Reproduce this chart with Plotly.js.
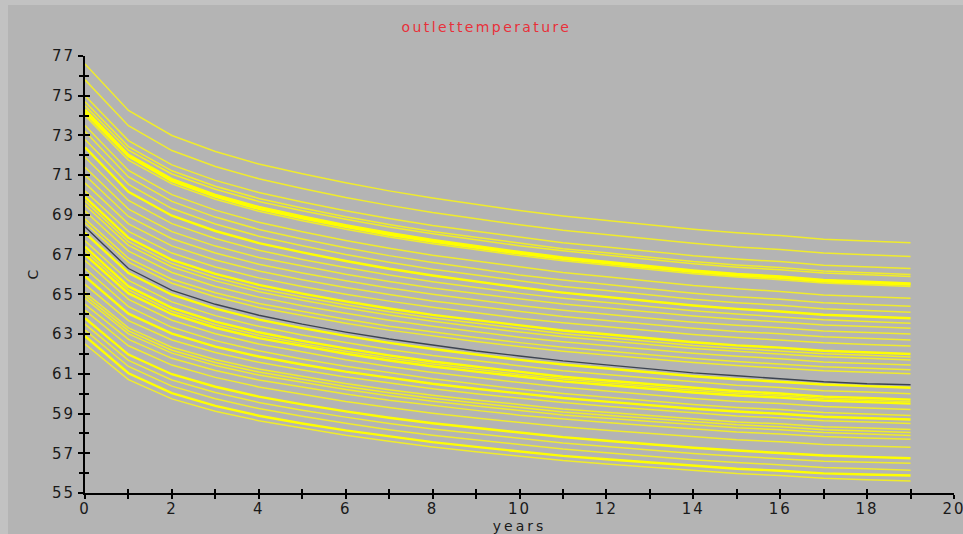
<!DOCTYPE html>
<html>
<head>
<meta charset="utf-8">
<script src="https://cdn.plot.ly/plotly-3.0.1.min.js"></script>
<style>
  html, body { margin: 0; padding: 0; background: #c2c2c2; width: 963px; height: 534px; overflow: hidden; }
  #chart { position: absolute; left: 8px; top: 5px; width: 955px; height: 529px; }
  #chart .xtick text, #chart .ytick text { letter-spacing: 2px; }
  #chart .gtitle { letter-spacing: 2.4px; }
  #chart .xtitle { letter-spacing: 3px; }
</style>
</head>
<body>
<div id="chart"></div>
<script>
// ---- data ----
const years = [0,1,2,3,4,5,6,7,8,9,10,11,12,13,14,15,16,17,18,19];
const xTickVals = [0,2,4,6,8,10,12,14,16,18,20];
const yTickVals = [55,57,59,61,63,65,67,69,71,73,75,77];

const run01 = [76.6,74.26,73.0,72.19,71.56,71.07,70.62,70.21,69.85,69.54,69.22,68.95,68.73,68.5,68.28,68.1,67.96,67.78,67.69,67.6];
const run02 = [75.8,73.49,72.24,71.44,70.82,70.33,69.88,69.48,69.12,68.81,68.5,68.23,68.01,67.79,67.57,67.39,67.26,67.08,66.99,66.9];
const run03 = [75.0,72.74,71.52,70.74,70.13,69.65,69.21,68.82,68.47,68.17,67.87,67.6,67.39,67.17,66.95,66.78,66.65,66.47,66.39,66.3];
const run04 = [74.7,72.44,71.22,70.44,69.83,69.35,68.91,68.52,68.17,67.87,67.57,67.3,67.09,66.87,66.65,66.48,66.35,66.17,66.09,66.0];
const run05 = [74.5,72.26,71.06,70.29,69.68,69.21,68.78,68.39,68.05,67.75,67.45,67.19,66.97,66.76,66.54,66.37,66.24,66.07,65.99,65.9];
const run06 = [74.3,72.03,70.8,70.01,69.4,68.92,68.48,68.09,67.74,67.43,67.13,66.86,66.64,66.43,66.21,66.03,65.9,65.73,65.64,65.55];
const run07 = [74.0,71.76,70.56,69.79,69.18,68.71,68.28,67.89,67.55,67.25,66.95,66.69,66.47,66.26,66.04,65.87,65.74,65.57,65.49,65.4];
const run08 = [73.5,71.24,70.02,69.24,68.63,68.15,67.71,67.32,66.97,66.67,66.37,66.1,65.89,65.67,65.45,65.28,65.15,64.97,64.89,64.8];
const run09 = [73.2,70.91,69.68,68.89,68.27,67.79,67.35,66.95,66.6,66.29,65.98,65.72,65.5,65.28,65.06,64.88,64.75,64.58,64.49,64.4];
const run10 = [72.8,70.54,69.32,68.54,67.93,67.45,67.01,66.62,66.27,65.97,65.67,65.4,65.19,64.97,64.75,64.58,64.45,64.27,64.19,64.1];
const run11 = [72.4,70.16,68.96,68.19,67.58,67.11,66.68,66.29,65.95,65.65,65.35,65.09,64.87,64.66,64.44,64.27,64.14,63.97,63.89,63.8];
const run12 = [71.9,69.73,68.56,67.81,67.22,66.76,66.35,65.97,65.64,65.35,65.05,64.8,64.59,64.38,64.18,64.01,63.88,63.72,63.63,63.55];
const run13 = [71.4,69.29,68.16,67.43,66.86,66.42,66.01,65.65,65.32,65.04,64.76,64.51,64.31,64.11,63.91,63.75,63.62,63.46,63.38,63.3];
const run14 = [71.0,68.92,67.8,67.08,66.52,66.08,65.68,65.32,65.0,64.72,64.44,64.2,64.0,63.8,63.6,63.44,63.32,63.16,63.08,63.0];
const run15 = [70.6,68.55,67.44,66.73,66.18,65.74,65.35,64.99,64.67,64.4,64.12,63.88,63.69,63.49,63.29,63.13,63.02,62.86,62.78,62.7];
const run16 = [70.2,68.17,67.08,66.38,65.83,65.4,65.01,64.66,64.35,64.08,63.8,63.57,63.37,63.18,62.98,62.83,62.71,62.56,62.48,62.4];
const run17 = [69.9,67.85,66.74,66.03,65.48,65.04,64.65,64.29,63.97,63.7,63.42,63.18,62.99,62.79,62.59,62.43,62.32,62.16,62.08,62.0];
const run18 = [69.5,67.47,66.38,65.68,65.13,64.7,64.31,63.96,63.65,63.38,63.1,62.87,62.67,62.48,62.28,62.13,62.01,61.86,61.78,61.7];
const run19 = [69.2,67.18,66.1,65.4,64.86,64.43,64.05,63.7,63.39,63.12,62.84,62.61,62.42,62.22,62.03,61.88,61.76,61.6,61.53,61.45];
const run20 = [68.8,66.82,65.76,65.08,64.54,64.13,63.75,63.4,63.1,62.83,62.57,62.34,62.15,61.96,61.77,61.62,61.5,61.35,61.28,61.2];
const run21 = [68.6,66.62,65.56,64.88,64.34,63.93,63.55,63.2,62.9,62.63,62.37,62.14,61.95,61.76,61.57,61.42,61.3,61.15,61.08,61.0];
const run22 = [68.1,66.07,64.98,64.28,63.73,63.3,62.91,62.56,62.25,61.98,61.7,61.47,61.27,61.08,60.88,60.73,60.61,60.46,60.38,60.3];
const run23 = [67.7,65.7,64.62,63.93,63.39,62.96,62.58,62.23,61.92,61.66,61.39,61.15,60.96,60.77,60.58,60.42,60.31,60.15,60.08,60.0];
const run24 = [67.4,65.4,64.32,63.63,63.09,62.66,62.28,61.93,61.62,61.36,61.09,60.85,60.66,60.47,60.28,60.12,60.01,59.85,59.78,59.7];
const run25 = [67.0,65.05,64.0,63.32,62.8,62.39,62.01,61.67,61.37,61.11,60.85,60.62,60.44,60.25,60.06,59.91,59.8,59.65,59.57,59.5];
const run26 = [66.7,64.75,63.7,63.02,62.5,62.09,61.71,61.37,61.07,60.81,60.55,60.32,60.14,59.95,59.76,59.61,59.5,59.35,59.27,59.2];
const run27 = [66.3,64.38,63.34,62.67,62.16,61.75,61.38,61.05,60.75,60.49,60.23,60.01,59.82,59.64,59.45,59.31,59.2,59.05,58.97,58.9];
const run28 = [65.9,64.03,63.02,62.37,61.87,61.47,61.11,60.79,60.5,60.25,60.0,59.78,59.6,59.42,59.24,59.1,58.99,58.84,58.77,58.7];
const run29 = [65.5,63.68,62.7,62.07,61.58,61.19,60.84,60.53,60.25,60.0,59.76,59.55,59.37,59.2,59.02,58.88,58.78,58.64,58.57,58.5];
const run30 = [65.1,63.31,62.34,61.72,61.24,60.86,60.51,60.2,59.92,59.68,59.44,59.23,59.06,58.89,58.72,58.58,58.48,58.34,58.27,58.2];
const run31 = [64.8,63.01,62.04,61.42,60.94,60.56,60.21,59.9,59.62,59.38,59.14,58.93,58.76,58.59,58.42,58.28,58.18,58.04,57.97,57.9];
const run32 = [64.5,62.73,61.78,61.17,60.69,60.32,59.98,59.67,59.4,59.16,58.92,58.72,58.55,58.38,58.21,58.07,57.97,57.84,57.77,57.7];
const run33 = [64.2,62.41,61.44,60.82,60.34,59.96,59.61,59.3,59.02,58.78,58.54,58.33,58.16,57.99,57.82,57.68,57.58,57.44,57.37,57.3];
const run34 = [63.8,61.97,60.98,60.35,59.85,59.46,59.11,58.79,58.51,58.27,58.02,57.81,57.63,57.45,57.28,57.14,57.03,56.89,56.82,56.75];
const run35 = [63.2,61.37,60.38,59.75,59.25,58.86,58.51,58.19,57.91,57.67,57.42,57.21,57.03,56.85,56.68,56.54,56.43,56.29,56.22,56.15];
const run36 = [62.9,61.03,60.03,59.39,58.89,58.5,58.15,57.84,57.56,57.32,57.08,56.87,56.7,56.53,56.36,56.22,56.12,55.99,55.93,55.88];
const run37 = [62.5,60.71,59.74,59.12,58.64,58.26,57.91,57.6,57.32,57.08,56.84,56.63,56.46,56.29,56.12,55.98,55.88,55.74,55.67,55.6];
const run38 = [74.15,71.95,70.7,69.92,69.3,68.83,68.4,68.0,67.66,67.35,67.05,66.79,66.57,66.35,66.14,65.96,65.83,65.66,65.58,65.5];
const run39 = [69.7,67.65,66.55,65.85,65.3,64.87,64.48,64.12,63.81,63.54,63.26,63.02,62.83,62.63,62.43,62.28,62.16,62.01,61.93,61.85];
const run40 = [67.2,65.22,64.15,63.47,62.94,62.52,62.14,61.8,61.5,61.23,60.97,60.74,60.55,60.36,60.17,60.02,59.91,59.75,59.68,59.6];
const run41 = [64.95,63.16,62.19,61.57,61.09,60.71,60.36,60.05,59.77,59.53,59.29,59.08,58.91,58.74,58.57,58.43,58.33,58.19,58.12,58.05];
const run42 = [63.5,61.68,60.69,60.06,59.56,59.17,58.82,58.5,58.22,57.98,57.73,57.52,57.34,57.16,56.99,56.85,56.74,56.6,56.55,56.5];

// the single dark (mean) run
const meanRun = [68.4,66.3,65.2,64.5,63.95,63.5,63.1,62.75,62.45,62.15,61.9,61.65,61.45,61.25,61.05,60.9,60.75,60.6,60.5,60.45];

const runs = [run01,run02,run03,run04,run05,run06,run07,run08,run09,run10,run11,run12,run13,
  run14,run15,run16,run17,run18,run19,run20,run21,run22,run23,run24,run25,run26,run27,run28,
  run29,run30,run31,run32,run33,run34,run35,run36,run37,run38,run39,run40,run41,run42];
const brightRuns = [5,10,16,21,23,24,27,33,35,37];   // indexes of the heavier, brighter runs

// ---- traces ----
const traces = runs.map((vals, i) => {
  const bright = brightRuns.indexOf(i) >= 0;
  return {
    type: 'scatter', mode: 'lines', x: years, y: vals,
    line: { color: bright ? '#ffff00' : '#f0ec2c', width: bright ? 2.4 : 1.5 },
    hoverinfo: 'skip', showlegend: false
  };
});
traces.push({
  type: 'scatter', mode: 'lines', x: years, y: meanRun,
  line: { color: '#3c4350', width: 1.4 }, hoverinfo: 'skip', showlegend: false
});
// helpers so the tick-crossing overlay axes are drawn
traces.push({ type: 'scatter', x: [], y: [], xaxis: 'x2', yaxis: 'y', showlegend: false, hoverinfo: 'skip' });
traces.push({ type: 'scatter', x: [], y: [], xaxis: 'x', yaxis: 'y2', showlegend: false, hoverinfo: 'skip' });

const tickFont = { family: 'DejaVu Sans, sans-serif', size: 15, color: '#1a1a1a' };

const layout = {
  width: 955, height: 529,
  paper_bgcolor: '#b4b4b4', plot_bgcolor: '#b4b4b4',
  margin: { l: 77, r: 9, t: 51, b: 41, pad: 0 },
  showlegend: false,
  title: {
    text: 'outlettemperature',
    font: { family: 'DejaVu Sans, sans-serif', size: 14, color: '#e8303a' },
    x: 0.462, xref: 'paper', xanchor: 'center',
    y: 1 - 22 / 529, yref: 'container', yanchor: 'middle'
  },
  xaxis: {
    range: [0, 20], tickvals: xTickVals, ticktext: xTickVals.map(String),
    showgrid: false, zeroline: false,
    showline: true, linecolor: '#000', linewidth: 2,
    ticks: 'outside', ticklen: 4, tickwidth: 2, tickcolor: '#000',
    minor: { ticks: 'outside', dtick: 1, tick0: 0, ticklen: 4, tickwidth: 2, tickcolor: '#000' },
    tickfont: tickFont, ticklabelstandoff: -3, ticklabeloverflow: 'allow',
    title: { text: 'years', font: { family: 'DejaVu Sans, sans-serif', size: 14, color: '#1a1a1a' }, standoff: 0 },
    fixedrange: true
  },
  xaxis2: {
    overlaying: 'x', anchor: 'y', side: 'bottom', range: [0, 20],
    tickvals: xTickVals, showticklabels: false, showgrid: false, zeroline: false, showline: false,
    ticks: 'inside', ticklen: 4, tickwidth: 2, tickcolor: '#000',
    minor: { ticks: 'inside', dtick: 1, tick0: 0, ticklen: 4, tickwidth: 2, tickcolor: '#000' },
    fixedrange: true
  },
  yaxis: {
    range: [55, 77], tickvals: yTickVals, ticktext: yTickVals.map(String),
    showgrid: false, zeroline: false,
    showline: true, linecolor: '#000', linewidth: 2,
    ticks: 'outside', ticklen: 5, tickwidth: 2, tickcolor: '#000',
    minor: { ticks: 'outside', dtick: 1, tick0: 55, ticklen: 4, tickwidth: 2, tickcolor: '#000' },
    tickfont: tickFont, ticklabeloverflow: 'allow',
    title: { text: 'C', font: { family: 'DejaVu Sans, sans-serif', size: 14, color: '#1a1a1a' }, standoff: 14 },
    fixedrange: true
  },
  yaxis2: {
    overlaying: 'y', anchor: 'x', side: 'left', range: [55, 77],
    tickvals: yTickVals, showticklabels: false, showgrid: false, zeroline: false, showline: false,
    ticks: 'inside', ticklen: 5, tickwidth: 2, tickcolor: '#000',
    minor: { ticks: 'inside', dtick: 1, tick0: 55, ticklen: 4, tickwidth: 2, tickcolor: '#000' },
    fixedrange: true
  }
};

Plotly.newPlot('chart', traces, layout, { displayModeBar: false, staticPlot: true });
</script>
</body>
</html>
